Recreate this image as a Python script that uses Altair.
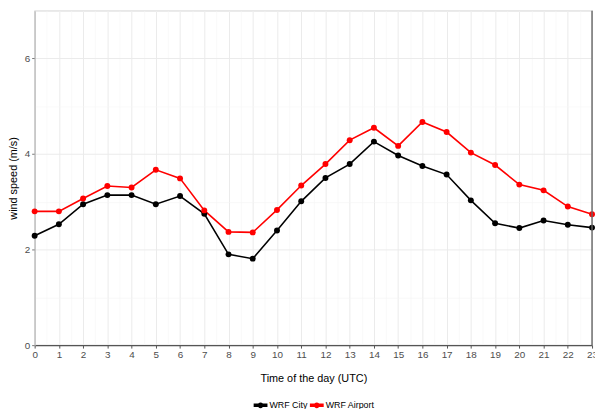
import altair as alt
import pandas as pd

hours = list(range(24))
city = [2.29, 2.53, 2.95, 3.14, 3.14, 2.95, 3.12, 2.75, 1.90, 1.81, 2.40, 3.01,
        3.50, 3.79, 4.26, 3.97, 3.75, 3.57, 3.03, 2.55, 2.45, 2.61, 2.52, 2.46]
airport = [2.80, 2.80, 3.07, 3.33, 3.30, 3.67, 3.49, 2.82, 2.37, 2.36, 2.83, 3.34,
           3.79, 4.29, 4.55, 4.17, 4.67, 4.46, 4.03, 3.77, 3.36, 3.24, 2.90, 2.74]
series = ["WRF City", "WRF Airport"]
colors = ["#000000", "#FF0000"]
x_grid = [h / 2 for h in range(47)]
y_grid = [0, 1, 2, 3, 4, 5, 6, 7]

df = pd.DataFrame({
    "hour": hours * 2,
    "speed": city + airport,
    "series": [series[0]] * 24 + [series[1]] * 24,
})

FONT = "Liberation Sans"
W, H = 565, 339

xs = alt.Scale(domain=[0, 23], nice=False, zero=False)
ys = alt.Scale(domain=[0, 7], nice=False)

x_major = "datum.value % 1 === 0"
y_major = "datum.value % 2 === 0"

SYMBOL = ("M-1,-0.25L1,-0.25L1,0.25L-1,0.25Z "
          "M-0.42,0A0.42,0.42 0 1,1 0.42,0A0.42,0.42 0 1,1 -0.42,0Z")

color = alt.Color("series:N",
                  scale=alt.Scale(domain=series, range=colors),
                  legend=alt.Legend(
                      title=None, orient="none", direction="horizontal",
                      legendX=222, legendY=393,
                      symbolType=SYMBOL,
                      symbolSize=196, symbolStrokeWidth=0,
                      labelFont=FONT, labelFontSize=9, labelColor="#000000",
                      columnPadding=2, labelOffset=2))

base = alt.Chart(df).encode(
    x=alt.X("hour:Q", scale=xs,
            axis=alt.Axis(title="Time of the day (UTC)", values=x_grid,
                          labelExpr=f"{x_major} ? format(datum.value, 'd') : ''",
                          grid=True,
                          gridColor={"condition": {"test": x_major, "value": "#EBEBEB"}, "value": "#F4F4F4"},
                          gridWidth={"condition": {"test": x_major, "value": 1}, "value": 0.6},
                          domainColor="#555555", domainWidth=1.2,
                          tickColor="#555555", tickSize=3,
                          tickOpacity={"condition": {"test": x_major, "value": 1}, "value": 0},
                          labelColor="#4D4D4D", labelFontSize=10, labelFont=FONT,
                          labelPadding=2, labelFlush=False, labelOverlap=False,
                          titleFont=FONT, titleFontSize=11, titleFontWeight="normal",
                          titleColor="#000000", titlePadding=13)),
    y=alt.Y("speed:Q", scale=ys,
            axis=alt.Axis(title="wind speed (m/s)", values=y_grid,
                          labelExpr=f"{y_major} && datum.value < 7 ? format(datum.value, 'd') : ''",
                          grid=True,
                          gridColor={"condition": {"test": y_major, "value": "#EBEBEB"}, "value": "#F4F4F4"},
                          gridWidth={"condition": {"test": y_major, "value": 1}, "value": 0.6},
                          domainColor="#BBBBBB", domainWidth=1.2,
                          tickColor="#777777", tickSize=3,
                          tickOpacity={"condition": {"test": y_major, "value": 1}, "value": 0},
                          labelColor="#4D4D4D", labelFontSize=10, labelFont=FONT,
                          labelPadding=2, labelFlush=False, labelOverlap=False,
                          titleFont=FONT, titleFontSize=11, titleFontWeight="normal",
                          titleColor="#000000", titlePadding=6)),
    color=color,
)

lines = base.mark_line(strokeWidth=1.6)
points = base.mark_point(filled=True, size=36, opacity=1)

right_border = alt.Chart(pd.DataFrame({"v": [0]})).mark_rule(
    color="#666666", strokeWidth=1.4).encode(x=alt.value(W), y=alt.value(0), y2=alt.value(H))

chart = alt.layer(lines, points, right_border).properties(
    width=W, height=H,
    autosize=alt.AutoSizeParams(type="none"),
    padding={"left": 27, "top": 0, "right": 3, "bottom": 62},
).configure_view(stroke="#CCCCCC", strokeWidth=1.2)

chart.save("out.html", embed_options={"renderer": "svg", "actions": False})
